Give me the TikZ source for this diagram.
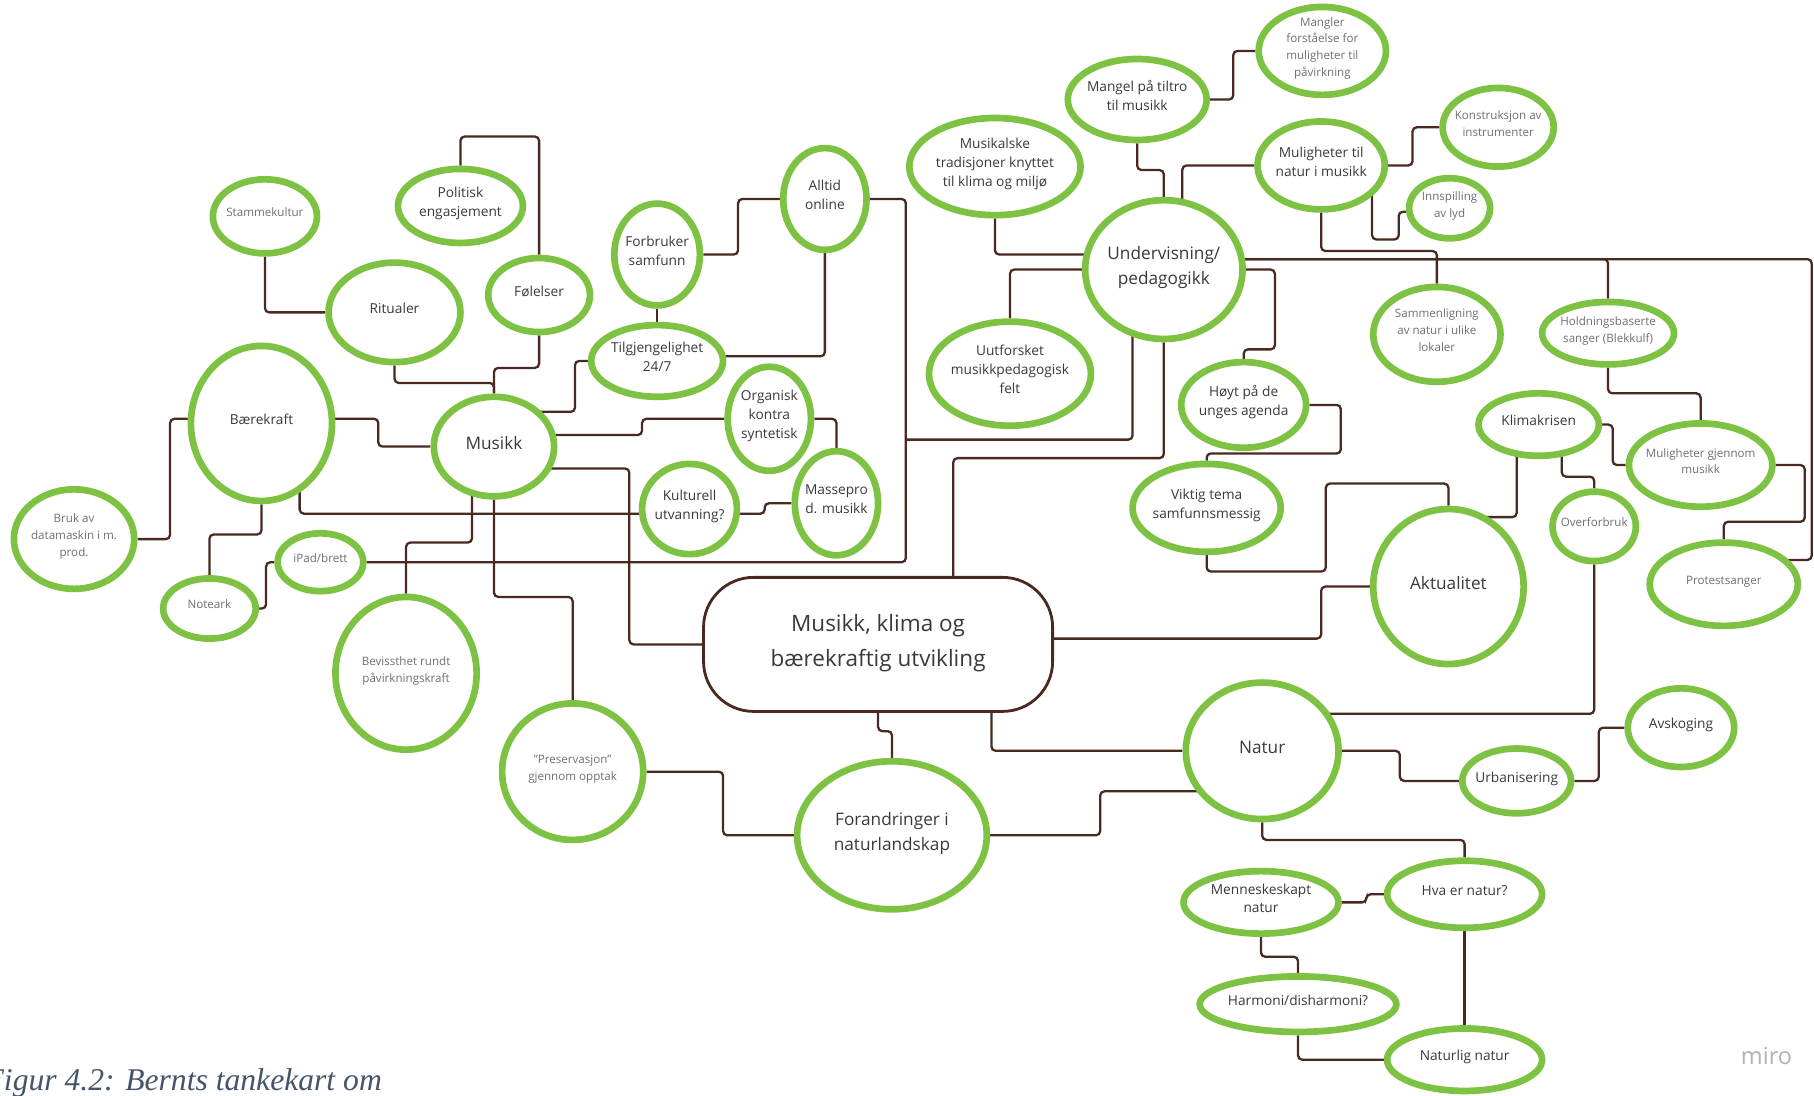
\documentclass[tikz,border=0pt]{standalone}
\usepackage{fontspec}
\setmainfont{Open Sans}
\newfontfamily\capfont{Liberation Serif}
\usetikzlibrary{shapes.geometric,calc}
\definecolor{leaf}{HTML}{7DC242}
\definecolor{twig}{HTML}{4A2A20}
\definecolor{inkA}{HTML}{3A3A3A}
\definecolor{inkB}{HTML}{707070}
\definecolor{capblue}{HTML}{44546A}
\newcommand{\tx}[1]{\makebox[0pt]{\raisebox{-0.25em}{\smash{\begin{tabular}{@{}c@{}}#1\end{tabular}}}}}
\pgfdeclarelayer{bg}
\pgfsetlayers{bg,main}
\tikzset{
  bub/.style n args={2}{ellipse, draw=leaf, fill=white, line width=1.9pt, inner sep=0pt,
    minimum width=(2*#1-6)*0.011569cm, minimum height=(2*#2-6)*0.011569cm},
  tinytxt/.style={font=\fontsize{3.3}{4.8}\selectfont, text=inkB},
  smalltxt/.style={font=\fontsize{3.9}{5.4}\selectfont, text=inkA},
  bigtxt/.style={font=\fontsize{4.9}{7}\selectfont, text=inkA},
  hubbox/.style={rectangle, draw=twig, fill=white, line width=0.8pt, rounded corners=0.5cm,
    inner sep=0pt, minimum width=3.49cm, minimum height=1.34cm,
    font=\fontsize{6.4}{9.9}\selectfont, text=inkA},
  wire/.style={draw=twig, line width=0.65pt, rounded corners=1.2pt}
}

\begin{document}
\begin{tikzpicture}[x=0.011569cm, y=-0.011569cm]
	\useasboundingbox (0,0) rectangle (1568,947);

	% left: Musikk and its branches
	\node[bub={48}{35}, tinytxt] (stam) at (229, 187) {\tx{Stammekultur}};
	\node[bub={57}{35}, smalltxt] (pol) at (398, 178) {\tx{Politisk\\engasjement}};
	\node[bub={60}{46}, smalltxt] (rit) at (341, 270) {\tx{Ritualer}};
	\node[bub={47}{35}, smalltxt] (fol) at (466, 255) {\tx{Følelser}};
	\node[bub={64}{70}, smalltxt] (bae) at (226, 366) {\tx{Bærekraft}};
	\node[bub={55}{46}, bigtxt] (mus) at (427, 386) {\tx{Musikk}};
	\node[bub={55}{46}, tinytxt] (bruk) at (64, 466) {\tx{Bruk av\\datamaskin i m.\\prod.}};
	\node[bub={43}{29}, tinytxt] (note) at (181, 526) {\tx{Noteark}};
	\node[bub={40}{28}, tinytxt] (ipad) at (277, 486) {\tx{iPad/brett}};
	\node[bub={64}{69}, tinytxt] (bev) at (351, 582) {\tx{Bevissthet rundt\\påvirkningskraft}};
	\node[bub={64}{62}, tinytxt] (pres) at (495, 667) {\tx{"Preservasjon"\\gjennom opptak}};
	\node[bub={40}{47}, smalltxt] (forb) at (568, 220) {\tx{Forbruker\\samfunn}};
	\node[bub={39}{47}, smalltxt] (alltid) at (713, 172) {\tx{Alltid\\online}};
	\node[bub={60}{34}, smalltxt] (tilg) at (568, 312) {\tx{Tilgjengelighet\\24/7}};
	\node[bub={39}{48}, smalltxt] (org) at (665, 362) {\tx{Organisk\\kontra\\syntetisk}};
	\node[bub={39}{48}, smalltxt] (masse) at (723, 435) {\tx{Massepro\\d. musikk}};
	\node[bub={44}{42}, smalltxt] (kult) at (596, 440) {\tx{Kulturell\\utvanning?}};

	% centre
	\node[hubbox] (hub) at (759, 557) {\tx{Musikk, klima og\\bærekraftig utvikling}};
	\coordinate (tee) at (783, 380);

	% top: Undervisning/pedagogikk
	\node[bub={77}{45}, smalltxt] (trad) at (860, 144) {\tx{Musikalske\\tradisjoner knyttet\\til klima og miljø}};
	\node[bub={71}{63}, bigtxt] (und) at (1006, 233) {\tx{Undervisning/\\pedagogikk}};
	\node[bub={73}{48}, smalltxt] (uut) at (873, 323) {\tx{Uutforsket\\musikkpedagogisk\\felt}};
	\node[bub={63}{38}, smalltxt] (mang) at (983, 86) {\tx{Mangel på tiltro\\til musikk}};
	\node[bub={58}{41}, tinytxt] (manf) at (1143, 44) {\tx{Mangler\\forståelse for\\muligheter til\\påvirkning}};
	\node[bub={58}{41}, smalltxt] (mtn) at (1142, 143) {\tx{Muligheter til\\natur i musikk}};
	\node[bub={51}{37}, tinytxt] (kons) at (1295, 110) {\tx{Konstruksjon av\\instrumenter}};
	\node[bub={38}{29}, tinytxt] (inn) at (1253, 180) {\tx{Innspilling\\av lyd}};
	\node[bub={58}{44}, tinytxt] (samm) at (1242, 289) {\tx{Sammenligning\\av natur i ulike\\lokaler}};
	\node[bub={60}{30}, tinytxt] (hold) at (1390, 288) {\tx{Holdningsbaserte\\sanger (Blekkulf)}};
	\node[bub={57}{40}, smalltxt] (hoyt) at (1075, 350) {\tx{Høyt på de\\unges agenda}};
	\node[bub={67}{41}, smalltxt] (vik) at (1043, 439) {\tx{Viktig tema\\samfunnsmessig}};

	% right: Aktualitet
	\node[bub={55}{30}, smalltxt] (klim) at (1330, 367) {\tx{Klimakrisen}};
	\node[bub={65}{39}, tinytxt] (mgm) at (1470, 402) {\tx{Muligheter gjennom\\musikk}};
	\node[bub={39}{33}, tinytxt] (over) at (1378, 455) {\tx{Overforbruk}};
	\node[bub={67}{39}, tinytxt] (prot) at (1490, 505) {\tx{Protestsanger}};
	\node[bub={68}{70}, bigtxt] (akt) at (1252, 507) {\tx{Aktualitet}};

	% bottom: Natur
	\node[bub={69}{62}, bigtxt] (nat) at (1091, 649) {\tx{Natur}};
	\node[bub={49}{37}, smalltxt] (avs) at (1453, 629) {\tx{Avskoging}};
	\node[bub={50}{31}, smalltxt] (urb) at (1311, 675) {\tx{Urbanisering}};
	\node[bub={85}{67}, bigtxt] (fornl) at (771, 722) {\tx{Forandringer i\\naturlandskap}};
	\node[bub={70}{30}, smalltxt] (menn) at (1090, 780) {\tx{Menneskeskapt\\natur}};
	\node[bub={70}{32}, smalltxt] (hva) at (1266, 773) {\tx{Hva er natur?}};
	\node[bub={88}{27}, smalltxt] (harm) at (1122, 868) {\tx{Harmoni/disharmoni?}};
	\node[bub={70}{30}, smalltxt] (natn) at (1266, 916) {\tx{Naturlig natur}};

	\node[font=\fontsize{6.7}{8}\selectfont, text=black!30] (logo) at (1527, 913) {miro};
	\node[anchor=base west, font=\fontsize{9}{11}\capfont\itshape, text=capblue] (cap) at (-24, 943) {Figur 4.2: Bernts tankekart om};

	\begin{pgfonlayer}{bg}
	\fill[white] (0,0) rectangle (1568,947);
	\draw[wire] (stam) |- (rit);
	\draw[wire] (rit) -- ++(0,61) -| (mus);
	\draw[wire] (fol) -- ++(0,63) -| (mus);
	\draw[wire] (pol) -- ++(0,-60) -| (fol);
	\draw[wire] ($(bae)+(0,-4)$) -| ($(mus)+(-100,0)$) -- (mus);
	\draw[wire] (bruk) -- ++(83,0) |- ($(bae)+(0,-4)$);
	\draw[wire] (bae) -- ++(0,96) -| (note);
	\draw[wire] (note) -| ($(ipad)+(-47,0)$) -- (ipad);
	\draw[wire] (alltid) -| ($(ipad)+(506,0)$) -- (ipad);
	\draw[wire] ($(und)+(-27,0)$) |- (tee);
	\draw[wire] (tilg) -- (forb);
	\draw[wire] (forb) -- ++(70,0) |- (alltid);
	\draw[wire] ($(tilg)+(0,-4)$) -| (alltid);
	\draw[wire] (tilg) -- ++(-71,0) |- ($(mus)+(30,-30)$);
	\draw[wire] ($(mus)+(0,-10)$) -| ($(org)+(-110,0)$) -- (org);
	\draw[wire] (org) -| (masse);
	\draw[wire] ($(kult)+(0,4)$) -| ($(masse)+(-62,0)$) -- (masse);
	\draw[wire] ($(bae)+(33,0)$) |- ($(kult)+(0,4)$);
	\draw[wire] ($(mus)+(0,19)$) -| ($(hub)+(-215,0)$) -- (hub);
	\draw[wire] ($(mus)+(-19,0)$) -- ++(0,83) -| (bev);
	\draw[wire] (mus) -- ++(0,130) -| (pres);
	\draw[wire] (pres) -| ($(fornl)+(-146,0)$) -- (fornl);
	\draw[wire] (hub) -- ++(0,75) -| (fornl);
	\draw[wire] ($(hub)+(98,0)$) |- (nat);
	\draw[wire] (fornl) -| ($(nat)+(-140,35)$) -- ($(nat)+(0,35)$);
	\draw[wire] ($(hub)+(0,-5)$) -| ($(akt)+(-110,0)$) -- (akt);
	\draw[wire] ($(hub)+(65,0)$) |- ($(und)+(0,163)$) -- (und);
	\draw[wire] (trad) |- ($(und)+(0,-13)$);
	\draw[wire] (uut) |- (und);
	\draw[wire] (und) -| ($(hoyt)+(27,-48)$) -| (hoyt);
	\draw[wire] (hoyt) -| ($(vik)+(116,-47)$) -| (vik);
	\draw[wire] (vik) -- ++(0,55) -| ($(akt)+(-106,-89)$) -| (akt);
	\draw[wire] ($(akt)+(0,-60)$) -| ($(klim)+(-19,0)$);
	\draw[wire] ($(klim)+(20,0)$) -- ++(0,45) -| (over);
	\draw[wire] (klim) -| ($(mgm)+(-76,0)$) -- (mgm);
	\draw[wire] (hold) -- ++(0,52) -| (mgm);
	\draw[wire] (mgm) -| ($(prot)+(70,-54)$) -| (prot);
	\draw[wire] ($(und)+(0,-9)$) -| (hold);
	\draw[wire] ($(und)+(0,-9)$) -| ($(prot)+(76,-21)$) -- ($(prot)+(0,-21)$);
	\draw[wire] (mang) -- ++(0,61) -| (und);
	\draw[wire] (mang) -| ($(manf)+(-77,0)$) -- (manf);
	\draw[wire] ($(und)+(16,0)$) |- (mtn);
	\draw[wire] (mtn) -| ($(kons)+(-74,0)$) -- (kons);
	\draw[wire] ($(mtn)+(44,0)$) -- ++(0,64) -| ($(inn)+(-44,3)$) -- ($(inn)+(0,3)$);
	\draw[wire] (mtn) -- ++(0,74) -| (samm);
	\draw[wire] (over) |- ($(nat)+(0,-32)$);
	\draw[wire] (nat) -| ($(urb)+(-101,0)$) -- (urb);
	\draw[wire] (urb) -| ($(avs)+(-71,0)$) -- (avs);
	\draw[wire] (nat) -- ++(0,77) -| (hva);
	\draw[wire] (hva) -| ($(menn)+(91,0)$) -- (menn);
	\draw[wire] (menn) -- ++(0,47) -| (harm);
	\draw[wire] (harm) |- (natn);
	\draw[wire] (hva) -- (natn);
	\end{pgfonlayer}
\end{tikzpicture}
\end{document}
